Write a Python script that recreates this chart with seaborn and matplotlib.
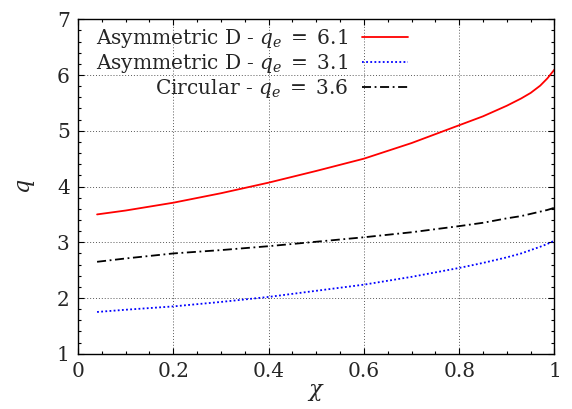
import numpy as np
import pandas as pd
import seaborn as sns
import matplotlib
matplotlib.use("Agg")
import matplotlib.pyplot as plt
from matplotlib.ticker import MultipleLocator, FuncFormatter

# ---- data ----
chi = [0.04, 0.1, 0.2, 0.3, 0.4, 0.5, 0.6, 0.7, 0.8, 0.85, 0.9, 0.93, 0.95, 0.97, 0.985, 1.0]
q_asym61 = [3.50, 3.57, 3.71, 3.88, 4.07, 4.28, 4.50, 4.78, 5.10, 5.26, 5.45, 5.58, 5.68, 5.81, 5.94, 6.10]
q_asym31 = [1.75, 1.79, 1.85, 1.93, 2.02, 2.13, 2.24, 2.38, 2.54, 2.63, 2.73, 2.80, 2.86, 2.92, 2.97, 3.03]
q_circ36 = [2.65, 2.71, 2.80, 2.86, 2.93, 3.01, 3.09, 3.18, 3.29, 3.35, 3.43, 3.47, 3.51, 3.55, 3.58, 3.62]
labels = [r"Asymmetric D - $q_e\;=\;6.1$",
          r"Asymmetric D - $q_e\;=\;3.1$",
          r"Circular - $q_e\;=\;3.6$"]
x_ticks = [0, 0.2, 0.4, 0.6, 0.8, 1]
y_ticks = [1, 2, 3, 4, 5, 6, 7]

df = pd.concat([
    pd.DataFrame({"chi": chi, "q": q_asym61, "series": labels[0]}),
    pd.DataFrame({"chi": chi, "q": q_asym31, "series": labels[1]}),
    pd.DataFrame({"chi": chi, "q": q_circ36, "series": labels[2]}),
])

sns.set_style("ticks")
plt.rcParams["font.family"] = ["DejaVu Serif"]
plt.rcParams["mathtext.fontset"] = "dejavuserif"
plt.rcParams["font.size"] = 14

fig = plt.figure(figsize=(5.72, 4.09), dpi=100)
ax = fig.add_axes([0.1364, 0.135, 0.9694 - 0.1364, 0.9528 - 0.135])

palette = {labels[0]: "#ff0000", labels[1]: "#0000ff", labels[2]: "#000000"}
dashes = {labels[0]: "", labels[1]: (1, 1.3), labels[2]: (5, 2, 1, 2)}
sns.lineplot(data=df, x="chi", y="q", hue="series", style="series",
             palette=palette, dashes=dashes, linewidth=1.3, ax=ax,
             sort=False, estimator=None)

ax.set_xlim(0, 1)
ax.set_ylim(1, 7)
ax.set_xticks(x_ticks)
ax.set_yticks(y_ticks)
ax.xaxis.set_minor_locator(MultipleLocator(0.05))
ax.yaxis.set_minor_locator(MultipleLocator(0.2))
fmt = FuncFormatter(lambda v, p: "%g" % v)
ax.xaxis.set_major_formatter(fmt)
ax.yaxis.set_major_formatter(fmt)
ax.tick_params(which="both", direction="in", top=True, right=True,
               labelsize=14.5, color="black", width=0.8)
ax.tick_params(which="major", length=4.5, pad=6)
ax.tick_params(which="minor", length=2.5)
for s in ax.spines.values():
    s.set_color("black")
    s.set_linewidth(1.0)
ax.grid(True, which="major", color="0.35", linestyle=(0, (1, 2)), linewidth=0.7)

ax.set_xlabel(r"$\chi$", fontsize=16, labelpad=0)
ax.set_ylabel(r"$q$", fontsize=16, labelpad=14)

leg = ax.legend(loc="upper right", bbox_to_anchor=(0.6925, 0.978),
                frameon=False, markerfirst=False, fontsize=14.5,
                handlelength=2.3, handletextpad=0.7, labelspacing=0.12,
                borderpad=0, borderaxespad=0)

fig.savefig("out.png", dpi=100)
